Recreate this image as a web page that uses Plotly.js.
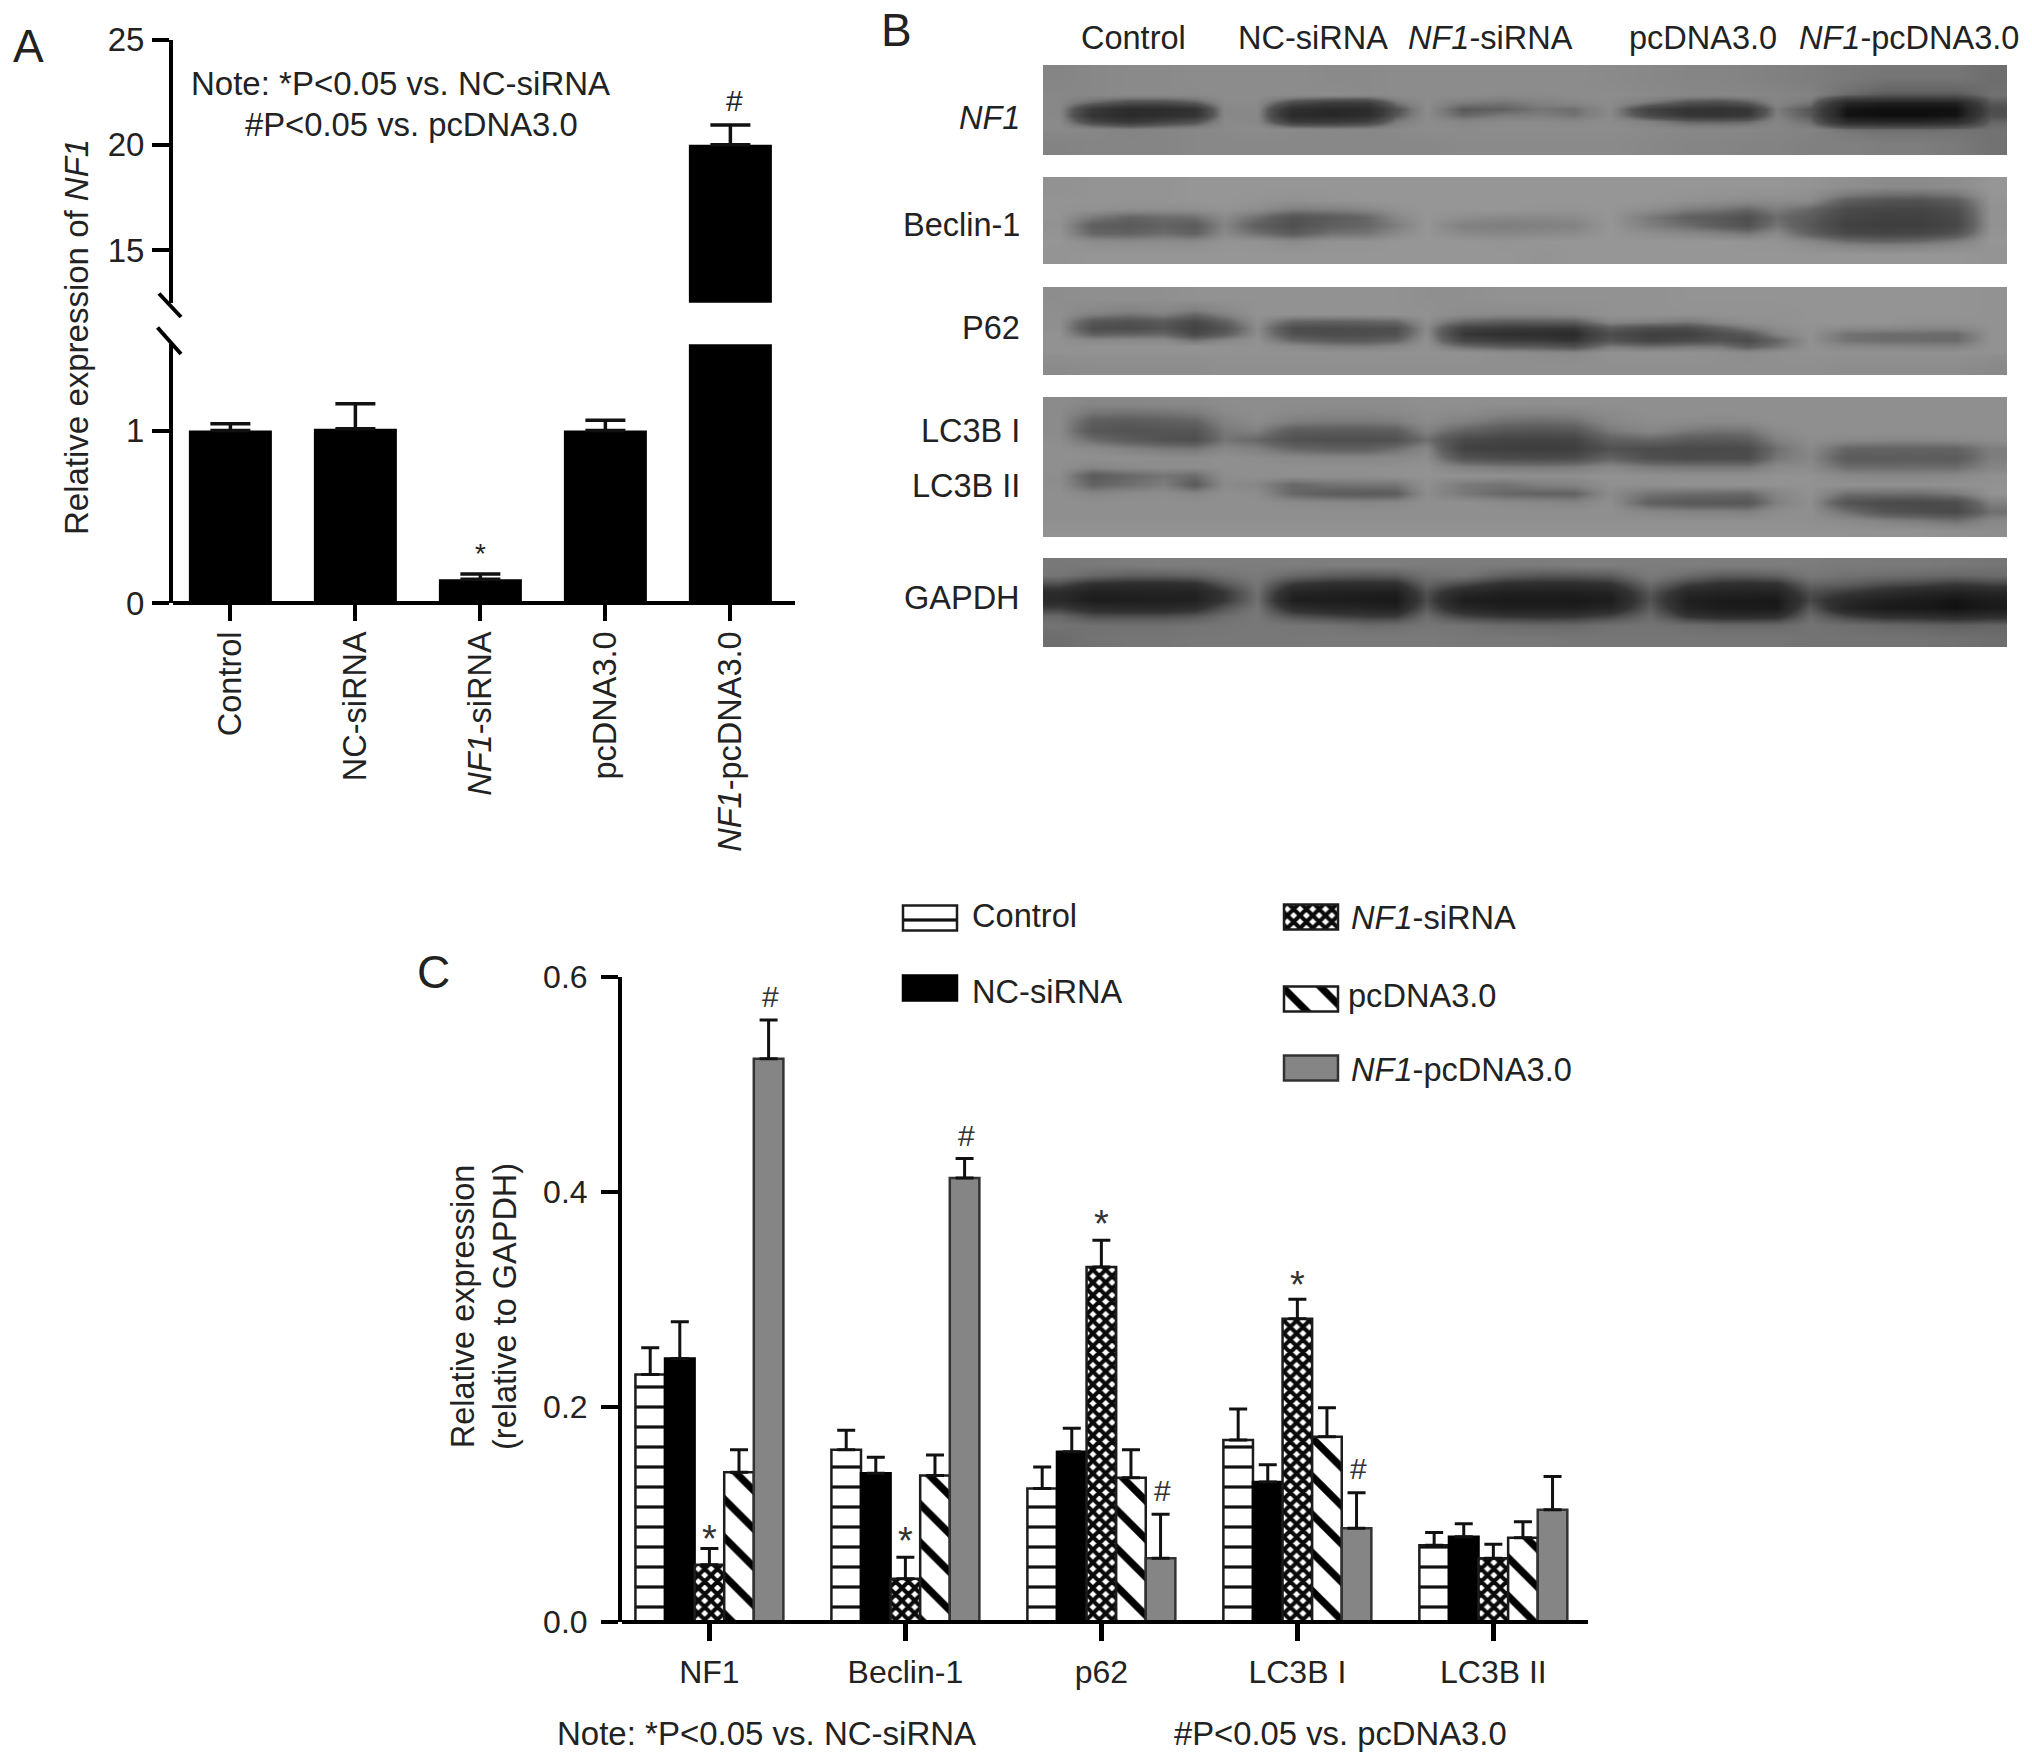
<!DOCTYPE html>
<html>
<head>
<meta charset="utf-8">
<script src="https://cdn.plot.ly/plotly-3.0.1.min.js"></script>
<style>html,body{margin:0;padding:0;background:#fff}</style>
</head>
<body>
<div id="chart" style="width:2032px;height:1762px"></div>
<script>
// ---------- Panel A data ----------
const groupsA = ['Control', 'NC-siRNA', '<i>NF1</i>-siRNA', 'pcDNA3.0', '<i>NF1</i>-pcDNA3.0'];
const valuesA = [1.0, 1.01, 0.14, 1.0, 20];
const errorsA = [0.04, 0.145, 0.03, 0.06, 0.94];

// ---------- Panel C data ----------
const categoriesC = ['NF1', 'Beclin-1', 'p62', 'LC3B I', 'LC3B II'];
const controlC = [0.230, 0.160, 0.124, 0.169, 0.071];
const ncC      = [0.245, 0.138, 0.158, 0.130, 0.079];
const siC      = [0.053, 0.040, 0.330, 0.282, 0.059];
const pcC      = [0.139, 0.136, 0.134, 0.172, 0.078];
const nf1pcC   = [0.524, 0.413, 0.059, 0.087, 0.104];
const controlErr = [0.025, 0.018, 0.020, 0.029, 0.012];
const ncErr      = [0.034, 0.015, 0.022, 0.016, 0.012];
const siErr      = [0.015, 0.020, 0.025, 0.018, 0.013];
const pcErr      = [0.021, 0.019, 0.026, 0.027, 0.015];
const nf1pcErr   = [0.036, 0.018, 0.041, 0.033, 0.031];

// ---------- Panel B: band grey levels read from the blots (0 black, 255 white) ----------
const laneLabels = ['Control', 'NC-siRNA', '<i>NF1</i>-siRNA', 'pcDNA3.0', '<i>NF1</i>-pcDNA3.0'];
const blotColumns = [1043,1075,1111,1147,1180,1209,1240,1274,1312,1352,1382,1410,1443,1484,1524,1558,1590,1629,1671,1705,1734,1761,1792,1828,1866,1903,1938,1974,2007];
const blotNF1Rows = [65, 90, 99, 106, 112, 118, 125, 134, 155];
const blotNF1 = [
 [136,138,140,140,142,142,142,142,140,140,142,142,142,142,142,142,140,138,136,136,134,132,130,128,126,126,126,122],
 [138,138,140,140,140,142,142,142,142,140,142,142,142,140,140,142,142,140,138,138,138,136,134,120,110,110,110,124],
 [138,118,100,100,112,140,140,100,82,82,125,142,128,125,132,136,142,125,105,100,112,136,125,45,36,36,38,112],
 [138,75,52,54,66,138,138,58,48,52,105,142,112,116,126,122,140,88,68,66,72,130,110,24,18,18,20,100],
 [138,68,50,58,66,138,138,50,46,54,110,142,118,128,130,124,140,95,72,68,76,132,112,22,18,18,22,104],
 [140,95,75,92,105,140,138,80,78,88,128,142,136,140,140,138,142,132,118,116,120,136,122,50,44,44,55,118],
 [140,138,134,136,138,140,142,140,138,138,140,142,142,142,142,142,142,140,138,138,138,136,134,125,122,122,124,124],
 [134,136,136,136,138,138,138,138,138,138,138,138,140,140,140,140,140,138,136,136,134,134,132,132,130,130,128,124]
];
const blotBeclinRows = [177, 195, 205, 213, 221, 229, 237, 245, 264];
const blotBeclin = [
 [146,148,148,148,150,150,150,150,150,150,150,150,150,150,150,150,150,150,150,150,150,150,148,144,140,140,142,150],
 [148,148,148,148,150,150,148,146,148,150,150,150,150,150,150,150,150,150,146,144,140,142,140,104,92,90,102,148],
 [148,146,142,142,144,148,142,128,130,136,146,150,150,150,148,148,150,142,128,122,112,128,112,80,74,72,84,146],
 [148,125,110,116,118,140,118,92,100,112,136,150,142,138,138,140,150,125,105,98,85,116,100,72,66,66,78,146],
 [146,104,98,108,100,134,104,86,104,112,128,150,130,128,130,132,150,128,115,100,88,122,96,66,62,62,74,146],
 [148,110,108,116,106,138,118,100,120,122,138,150,138,136,138,140,150,142,136,130,122,138,105,76,72,74,90,148],
 [150,140,138,140,138,148,146,138,146,146,150,150,150,148,150,150,150,150,150,150,148,148,136,116,110,114,128,150],
 [148,150,150,150,150,150,150,150,150,150,150,150,150,150,148,150,150,150,150,150,150,150,150,150,150,150,150,148]
];
const blotP62Rows = [287, 310, 318, 325, 331, 337, 343, 349, 356, 375];
const blotP62 = [
 [142,144,144,144,146,146,146,146,146,146,146,144,144,146,146,146,146,146,148,148,148,148,148,148,148,148,148,146],
 [144,130,122,130,112,132,146,146,146,146,146,146,140,138,138,140,146,146,146,146,146,146,148,148,148,148,148,146],
 [144,95,88,98,76,105,144,108,106,108,112,144,112,102,102,104,136,132,125,138,144,146,148,148,148,146,146,146],
 [144,84,82,92,68,90,140,82,82,85,85,140,66,58,56,54,100,82,82,105,125,140,146,138,136,134,134,146],
 [146,105,108,112,78,102,142,88,82,84,88,142,54,46,46,42,82,64,66,84,95,132,146,120,116,116,114,146],
 [146,138,140,140,120,136,146,112,100,100,108,146,72,60,58,50,92,70,80,90,80,110,146,120,116,116,114,146],
 [146,146,146,146,146,146,146,140,130,128,136,146,115,100,96,85,125,115,122,122,100,120,146,136,134,132,132,146],
 [146,146,146,146,146,146,146,146,146,146,146,146,146,142,140,136,146,146,146,144,140,144,146,146,146,146,146,146],
 [140,142,142,142,142,144,144,144,144,144,144,144,144,144,144,144,144,144,144,144,144,144,144,142,142,142,142,138]
];
const blotLC3Rows = [397, 408, 417, 426, 435, 444, 453, 462, 471, 480, 489, 498, 507, 516, 525, 537];
const blotLC3 = [
 [140,136,136,138,138,142,142,142,142,142,142,144,144,144,144,144,144,144,144,144,144,144,144,144,144,144,144,144],
 [140,122,120,122,126,138,142,138,136,136,138,142,140,134,132,134,140,144,144,144,144,144,144,144,144,144,144,144],
 [140,102,98,104,108,132,140,128,125,125,128,140,130,118,115,118,136,142,140,138,140,144,144,144,144,144,144,144],
 [140,95,90,92,92,125,130,100,100,100,102,132,108,95,92,95,125,136,125,120,122,140,144,144,144,144,144,144],
 [142,115,100,90,85,122,112,88,85,85,88,118,78,70,68,70,105,112,100,98,102,130,142,138,136,136,138,142],
 [144,140,132,125,122,136,130,112,105,105,118,136,68,62,60,62,88,82,78,78,80,118,138,110,108,108,108,128],
 [144,144,144,142,142,144,142,138,136,136,138,142,90,82,80,82,108,85,80,82,82,122,136,100,100,102,100,128],
 [144,136,140,142,142,144,144,144,144,144,144,146,130,125,124,126,136,125,122,122,122,138,140,115,115,115,115,134],
 [142,100,112,122,115,142,144,144,144,144,146,146,146,144,144,144,146,144,144,144,144,146,146,138,136,136,138,144],
 [142,108,118,128,100,140,135,112,120,122,122,144,125,120,130,132,144,144,146,146,146,146,146,146,144,144,146,146],
 [144,136,140,142,136,144,142,112,102,100,102,142,125,112,108,108,140,120,116,114,112,134,146,118,118,116,126,146],
 [144,144,144,144,144,144,144,140,138,136,138,144,144,140,138,134,144,105,96,96,94,130,144,90,80,78,82,130],
 [144,144,144,144,144,144,144,144,144,144,144,144,144,144,144,144,144,136,132,132,130,142,144,118,92,84,78,118],
 [144,144,144,144,144,144,144,144,144,144,144,144,144,144,144,144,144,144,144,144,144,144,144,140,132,126,118,136],
 [146,146,146,146,146,146,146,146,146,146,146,146,146,146,146,146,146,146,146,146,146,146,146,146,146,146,144,142]
];
const blotGAPDHRows = [558, 570, 580, 588, 596, 604, 612, 620, 630, 647];
const blotGAPDH = [
 [120,122,124,126,126,126,126,126,126,126,126,124,124,124,124,126,126,126,126,126,126,126,124,122,122,122,120,118],
 [118,108,102,102,105,115,122,108,100,98,100,115,118,102,96,96,100,122,110,100,100,104,120,115,112,110,108,110],
 [88,62,58,58,62,95,118,72,60,58,60,105,85,62,58,58,65,110,78,64,60,64,105,100,88,82,72,80],
 [55,36,38,40,40,72,114,44,38,34,34,92,48,36,34,34,40,96,48,40,40,40,90,75,58,46,38,46],
 [52,30,32,34,36,72,114,32,30,28,24,88,30,26,28,26,30,92,34,28,26,24,84,50,34,28,20,30],
 [78,55,52,52,60,95,118,58,46,42,38,98,46,36,34,34,44,100,40,30,28,26,98,42,26,24,18,28],
 [108,90,90,90,96,112,120,92,82,74,74,112,82,70,66,68,82,110,68,56,56,60,110,80,62,58,50,58],
 [116,114,114,114,116,118,120,118,115,110,112,118,115,110,108,108,114,116,112,108,108,108,116,112,108,105,102,105],
 [112,116,118,118,120,120,120,120,122,122,122,122,120,120,120,118,118,118,118,118,118,118,116,116,116,116,114,112]
];
// Tone curves that keep the soft band flanks as steep as the blot's: [level, grey]
const toneCurve = [[0, 0], [18, 15], [50, 42], [80, 58], [110, 85], [130, 126], [150, 150], [255, 255]];
const toneCurveSoft = [[0, 0], [42, 42], [62, 62], [85, 78], [110, 100], [130, 128], [150, 150], [255, 255]];
const toneCurveDark = [[0, 0], [24, 24], [42, 36], [70, 52], [95, 86], [118, 118], [255, 255]];

// ---------- Layout helpers ----------
const W = 2032, H = 1762;
const FONT = '"Liberation Sans", Arial, sans-serif';
const INK = '#222222';
const domX = (a, b) => [a / W, b / W];
const domY = (top, bot) => [1 - bot / H, 1 - top / H];
const note = (text, x, y, size, xanchor, extra) => Object.assign({
  text, x: x / W, y: 1 - y / H, xref: 'paper', yref: 'paper', showarrow: false,
  xanchor: xanchor || 'left', yanchor: 'middle', font: {family: FONT, size: size, color: INK}, borderpad: 0
}, extra || {});

const upOnly = (arr, w, t) => ({type: 'data', symmetric: false, array: arr, arrayminus: arr.map(() => 0),
  visible: true, color: '#111', thickness: t, width: w});

// ---------- Panel A traces ----------
const xA = groupsA.map((_, i) => i);
const barA = (xa, ya) => ({
  type: 'bar', x: xA, y: valuesA, width: 0.664, xaxis: xa, yaxis: ya, name: 'Relative expression of NF1',
  marker: {color: '#000', line: {width: 0}}, error_y: upOnly(errorsA, 20, 3.5), showlegend: false, hoverinfo: 'x+y'
});

// ---------- Panel C traces ----------
const LINE = {color: '#1c1c1c', width: 2.5};
const styles = [
  {color: '#fff', line: LINE, pattern: {shape: '-', bgcolor: '#fff', fgcolor: '#111', size: 20, solidity: 0.16}},
  {color: '#000', line: {color: '#000', width: 2.5}},
  {color: '#fff', line: LINE, pattern: {shape: 'x', bgcolor: '#fff', fgcolor: '#0a0a0a', size: 9, solidity: 0.7}},
  {color: '#fff', line: LINE, pattern: {shape: '\\', bgcolor: '#fff', fgcolor: '#000', size: 27, solidity: 0.27}},
  {color: '#858585', line: {color: '#333', width: 2.5}}
];
const seriesNames = ['Control', 'NC-siRNA', '<i>NF1</i>-siRNA', 'pcDNA3.0', '<i>NF1</i>-pcDNA3.0'];
const seriesVals = [controlC, ncC, siC, pcC, nf1pcC];
const seriesErrs = [controlErr, ncErr, siErr, pcErr, nf1pcErr];
const xC = categoriesC.map((_, i) => i);
const tracesC = seriesVals.map((v, s) => ({
  type: 'bar', x: xC, y: v, name: seriesNames[s], xaxis: 'x3', yaxis: 'y3', marker: styles[s],
  error_y: upOnly(seriesErrs[s], 9, 3), showlegend: false
}));

// ---------- Legend of panel C, drawn as bars on a hidden pixel-sized axis pair ----------
const legendCol = [903, 903, 1284, 1284, 1284];
const legendRow = [918, 988, 917, 999, 1068];
const legendTextX = [971, 971, 1350, 1347, 1350];
const legendTextY = [915, 991, 918, 995, 1069];
const tracesLegend = seriesNames.map((n, s) => ({
  type: 'bar', orientation: 'h', base: [legendCol[s]], x: [54], y: [legendRow[s]], width: [25], offset: [-12.5],
  xaxis: 'x5', yaxis: 'y5', marker: styles[s], showlegend: false, name: n, hoverinfo: 'name'
}));

// ---------- Panel B traces ----------
const toScale = curve => curve.map(([z, g]) => [z / 255, 'rgb(' + g + ',' + g + ',' + g + ')']);
const blots = [
  {rows: blotNF1Rows, z: blotNF1, tone: toneCurve}, {rows: blotBeclinRows, z: blotBeclin, tone: toneCurveSoft},
  {rows: blotP62Rows, z: blotP62, tone: toneCurveSoft}, {rows: blotLC3Rows, z: blotLC3, tone: toneCurveSoft},
  {rows: blotGAPDHRows, z: blotGAPDH, tone: toneCurveDark}
];
const tracesBlot = blots.map(b => ({
  type: 'heatmap', z: b.z, y: b.rows, x: blotColumns, xaxis: 'x4', yaxis: 'y4',
  colorscale: toScale(b.tone), zmin: 0, zmax: 255, zsmooth: 'best', showscale: false, hoverinfo: 'z'
}));

// ---------- Significance marks: [group, series, symbol, extra vertical shift in px] ----------
const marksC = [
  [0, 2, '*', -13], [0, 4, '#', 5], [1, 2, '*', -7], [1, 4, '#', 5],
  [2, 2, '*', -7], [2, 4, '#', 5], [3, 2, '*', -9], [3, 4, '#', 6]
];
const annC = marksC.map(([g, s, t, shift]) => ({
  text: t, x: g + (s - 2) * 0.151 + (t === '#' ? 0.012 : 0), y: seriesVals[s][g] + seriesErrs[s][g],
  xref: 'x3', yref: 'y3', yanchor: 'bottom', yshift: shift, showarrow: false,
  font: {family: FONT, size: t === '*' ? 38 : 30, color: '#333'}
}));
const annA = [
  {text: '*', x: 2, y: valuesA[2] + errorsA[2], xref: 'x', yref: 'y', yanchor: 'bottom', yshift: 3, showarrow: false,
   font: {family: FONT, size: 28, color: INK}},
  {text: '#', x: 4.03, y: valuesA[4] + errorsA[4], xref: 'x2', yref: 'y2', yanchor: 'bottom', yshift: 6, showarrow: false,
   font: {family: FONT, size: 30, color: INK}}
];

const annotations = [
  note('A', 12, 46, 46), note('B', 880, 30, 46), note('C', 416, 972, 46),
  note('Note: *P&lt;0.05 vs. NC-siRNA', 190, 83, 33),
  note('#P&lt;0.05 vs. pcDNA3.0', 244, 125, 32.8),
  note('Relative expression of <i>NF1</i>', 76, 337, 33, 'center', {textangle: -90}),
  note('Relative expression<br>(relative to GAPDH)', 484, 1307, 32.5, 'center', {textangle: -90}),
  note('Note: *P&lt;0.05 vs. NC-siRNA', 556, 1733, 33),
  note('#P&lt;0.05 vs. pcDNA3.0', 1173, 1733, 32.8),
  note(laneLabels[0], 1133, 38, 32.5, 'center'),
  note(laneLabels[1], 1313, 38, 32.5, 'center'),
  note(laneLabels[2], 1490, 38, 32.5, 'center'),
  note(laneLabels[3], 1703, 38, 32.5, 'center'),
  note(laneLabels[4], 1909, 38, 32.5, 'center'),
  note('<i>NF1</i>', 1021, 118, 32.5, 'right'),
  note('Beclin-1', 1021, 225, 32.5, 'right'),
  note('P62', 1021, 328, 32.5, 'right'),
  note('LC3B I', 1021, 431, 32.5, 'right'),
  note('LC3B II', 1021, 486, 32.5, 'right'),
  note('GAPDH', 1021, 598, 32.5, 'right')
].concat(seriesNames.map((n, s) => note(n, legendTextX[s], legendTextY[s], 32.6)), annC, annA);

const slash = (x0, y0, x1, y1) => ({type: 'line', xref: 'paper', yref: 'paper', x0: x0 / W, y0: 1 - y0 / H, x1: x1 / W, y1: 1 - y1 / H,
  line: {color: '#000', width: 4}});

const tickFont = s => ({family: FONT, size: s, color: INK});
const hidden = {visible: false, showgrid: false, zeroline: false, fixedrange: true};

const layout = {
  width: W, height: H, margin: {l: 0, r: 0, t: 0, b: 0}, paper_bgcolor: '#fff', plot_bgcolor: 'rgba(0,0,0,0)',
  showlegend: false, barmode: 'group', bargap: 0.245, bargroupgap: 0, hovermode: 'closest',
  font: {family: FONT, color: INK},
  // Panel A, lower segment
  xaxis: {domain: domX(173, 795), range: [-0.459, 4.517], anchor: 'y', tickmode: 'array', tickvals: xA, ticktext: groupsA,
    tickangle: -90, ticks: 'outside', ticklen: 17, tickwidth: 4, tickcolor: '#000', showline: false, showgrid: false, zeroline: false,
    tickfont: tickFont(32.5), ticklabelstandoff: -3},
  yaxis: {domain: domY(344.2, 603.4), range: [0, 1.5], anchor: 'x', tickmode: 'array', tickvals: [0, 1], ticktext: ['0', '1'],
    ticks: 'outside', ticklen: 17, tickwidth: 4, tickcolor: '#000', showline: true, linecolor: '#000', linewidth: 4, showgrid: false,
    zeroline: true, zerolinecolor: '#000', zerolinewidth: 4, zerolinelayer: 'above traces', tickfont: tickFont(33), ticklabelstandoff: 1},
  // Panel A, upper segment
  xaxis2: Object.assign({domain: domX(173, 795), range: [-0.459, 4.517], anchor: 'y2'}, hidden),
  yaxis2: {domain: domY(39.5, 302.7), range: [12.5, 25], anchor: 'x2', tickmode: 'array', tickvals: [15, 20, 25], ticktext: ['15', '20', '25'],
    ticks: 'outside', ticklen: 17, tickwidth: 4, tickcolor: '#000', showline: true, linecolor: '#000', linewidth: 4, showgrid: false,
    zeroline: false, tickfont: tickFont(33), ticklabelstandoff: 1},
  // Panel C
  xaxis3: {domain: domX(622, 1588), range: [-0.446, 4.483], anchor: 'y3', tickmode: 'array', tickvals: xC, ticktext: categoriesC,
    ticks: 'outside', ticklen: 18, tickwidth: 5, tickcolor: '#000', showline: false, showgrid: false, zeroline: false,
    tickfont: tickFont(32), ticklabelstandoff: 4},
  yaxis3: {domain: domY(977, 1621.6), range: [0, 0.6], anchor: 'x3', tickmode: 'array', tickvals: [0, 0.2, 0.4, 0.6],
    ticktext: ['0.0', '0.2', '0.4', '0.6'], ticks: 'outside', ticklen: 17, tickwidth: 4, tickcolor: '#000', showline: true,
    linecolor: '#000', linewidth: 4, showgrid: false, zeroline: true, zerolinecolor: '#000', zerolinewidth: 4, zerolinelayer: 'above traces',
    tickfont: tickFont(32), ticklabelstandoff: 7},
  // Panel B images
  xaxis4: Object.assign({domain: domX(1043, 2007), range: [1043, 2007], anchor: 'y4'}, hidden),
  yaxis4: Object.assign({domain: domY(60, 660), range: [660, 60], anchor: 'x4'}, hidden),
  // Panel C legend swatches
  xaxis5: Object.assign({domain: domX(880, 1360), range: [880, 1360], anchor: 'y5'}, hidden),
  yaxis5: Object.assign({domain: domY(890, 1090), range: [1090, 890], anchor: 'x5'}, hidden),
  shapes: [slash(159, 293.5, 181, 317), slash(157.5, 327.5, 181, 354)],
  annotations: annotations
};

const traces = [barA('x', 'y'), barA('x2', 'y2')].concat(tracesC, tracesLegend, tracesBlot);
Plotly.newPlot('chart', traces, layout, {displayModeBar: false, staticPlot: true});
</script>
</body>
</html>
